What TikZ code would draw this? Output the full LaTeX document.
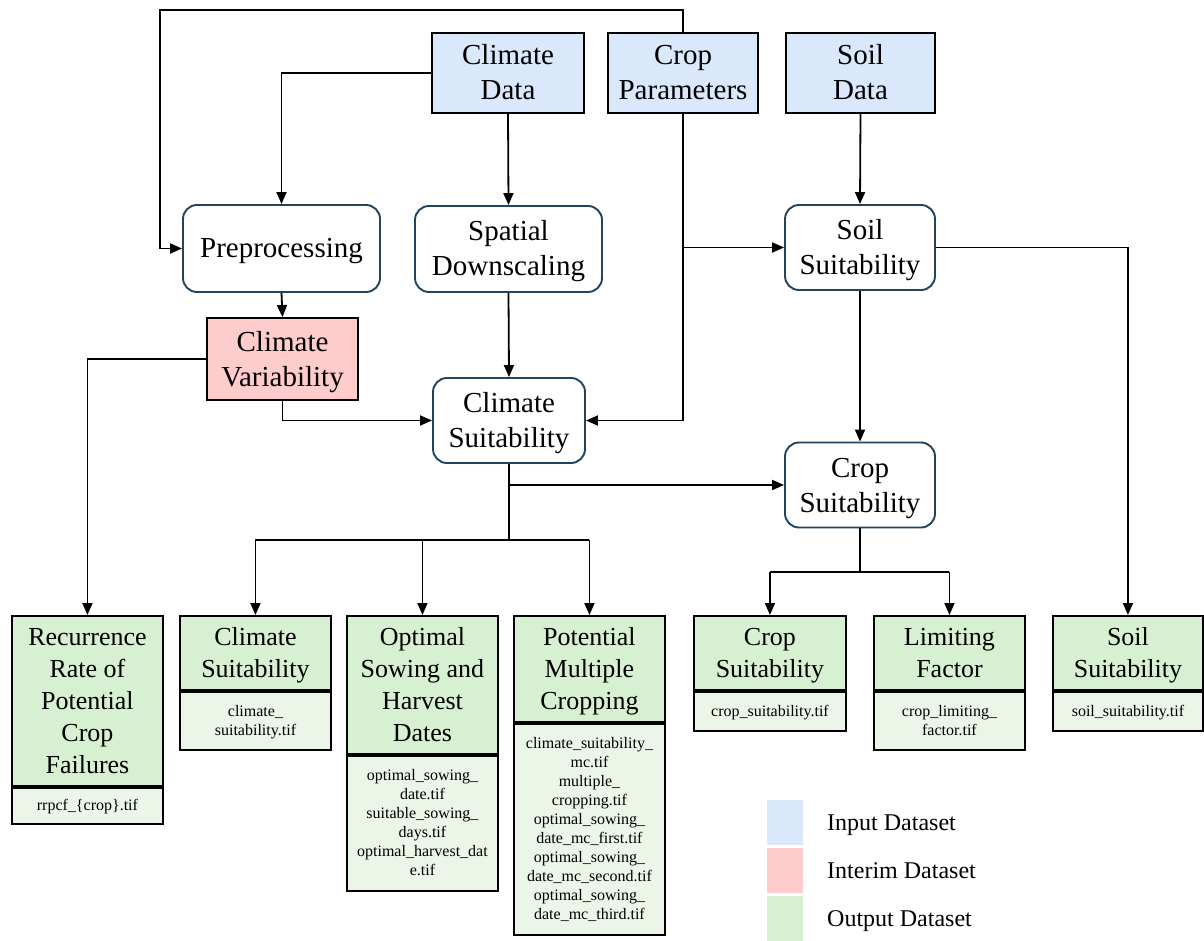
\documentclass[tikz,border=0pt]{standalone}
\usepackage{fontspec}
\setmainfont{Liberation Serif}
\usetikzlibrary{arrows.meta}
\definecolor{inblue}{HTML}{DAE8FC}
\definecolor{inpink}{HTML}{FFCCCC}
\definecolor{outgreen}{HTML}{D8F0D2}
\definecolor{filegreen}{HTML}{EBF6E8}
\definecolor{procborder}{HTML}{23445D}
% struts that centre lines on their cap height, as the reference does
\newcommand{\pst}{\rule[-8pt]{0pt}{35pt}}
\newcommand{\hst}{\rule[-7pt]{0pt}{31pt}}
\newcommand{\fst}{\rule[-4pt]{0pt}{18pt}}
\newcommand{\lst}{\rule[-6pt]{0pt}{28pt}}
\tikzset{
  inbox/.style={draw=black, line width=1.9pt, fill=inblue, inner sep=0pt, align=center, minimum height=80pt, font=\fontsize{29}{35}\selectfont},
  procbox/.style={draw=procborder, line width=1.9pt, fill=white, rounded corners=14pt, inner sep=0pt, align=center, font=\fontsize{29}{35}\selectfont},
  interbox/.style={draw=black, line width=1.9pt, fill=inpink, inner sep=0pt, align=center, font=\fontsize{29}{35}\selectfont},
  outhead/.style={draw=black, line width=1.9pt, fill=outgreen, inner sep=0pt, align=center, anchor=north west, minimum width=151pt, font=\fontsize{26}{32}\selectfont},
  outfile/.style={draw=black, line width=1.9pt, fill=filegreen, inner sep=0pt, align=center, anchor=north west, minimum width=151pt, font=\fontsize{16}{19}\selectfont},
  conn/.style={line width=1.8pt, draw=black},
  arr/.style={conn, -{Triangle[length=12pt,width=10pt]}},
  legsq/.style={inner sep=0pt, minimum width=36pt, minimum height=45pt},
  legtxt/.style={anchor=west, inner sep=0pt, font=\fontsize{24}{28}\selectfont}
}
\begin{document}
\begin{tikzpicture}[x=1pt,y=-1pt]
\useasboundingbox (0,0) rectangle (1204,941);

% input datasets
\node[inbox, minimum width=152pt] (cd) at (508,73) {\pst Climate\\\pst Data};
\node[inbox, minimum width=150pt] (cp) at (683,73) {\pst Crop\\\pst Parameters};
\node[inbox, minimum width=149pt] (sd) at (860.5,73) {\pst Soil\\\pst Data};

% processes
\node[procbox, minimum width=197pt, minimum height=87pt] (pre) at (281.5,248.5) {\pst Preprocessing};
\node[procbox, minimum width=187pt, minimum height=86pt] (spd) at (508.5,249) {\pst Spatial\\\pst Downscaling};
\node[procbox, minimum width=150pt, minimum height=85pt] (ss) at (860,247.5) {\pst Soil\\\pst Suitability};
\node[interbox, minimum width=151pt, minimum height=82pt] (cv) at (282.5,359) {\pst Climate\\\pst Variability};
\node[procbox, minimum width=152pt, minimum height=85pt] (cs) at (509,420.5) {\pst Climate\\\pst Suitability};
\node[procbox, minimum width=150pt, minimum height=85pt] (crs) at (860,485) {\pst Crop\\\pst Suitability};

% outputs
\node[outhead, minimum height=170pt] (o1) at (11,615) {\hst Recurrence\\Rate of\\Potential\\Crop\\\hst Failures};
\node[outfile, minimum height=36pt] (f1) at (o1.south west) {\fst rrpcf\_\{crop\}.tif};

\node[outhead, minimum height=74pt] (o2) at (179,615) {\hst Climate\\\hst Suitability};
\node[outfile, minimum height=58pt] (f2) at (o2.south west) {\fst climate\_\\\fst suitability.tif};

\node[outhead, minimum height=138pt] (o3) at (346,615) {\hst Optimal\\Sowing and\\Harvest\\\hst Dates};
\node[outfile, minimum height=135pt] (f3) at (o3.south west) {\fst optimal\_sowing\_\\date.tif\\suitable\_sowing\_\\days.tif\\optimal\_harvest\_dat\\\fst e.tif};

\node[outhead, minimum height=106pt] (o4) at (513,615) {\hst Potential\\Multiple\\\hst Cropping};
\node[outfile, minimum height=211pt] (f4) at (o4.south west) {\fst climate\_suitability\_\\mc.tif\\multiple\_\\cropping.tif\\optimal\_sowing\_\\date\_mc\_first.tif\\optimal\_sowing\_\\date\_mc\_second.tif\\optimal\_sowing\_\\\fst date\_mc\_third.tif};

\node[outhead, minimum width=152pt, minimum height=74pt] (o5) at (693,615) {\hst Crop\\\hst Suitability};
\node[outfile, minimum width=152pt, minimum height=39pt] (f5) at (o5.south west) {\fst crop\_suitability.tif};

\node[outhead, minimum height=74pt] (o6) at (873,615) {\hst Limiting\\\hst Factor};
\node[outfile, minimum height=58pt] (f6) at (o6.south west) {\fst crop\_limiting\_\\\fst factor.tif};

\node[outhead, minimum width=150pt, minimum height=74pt] (o7) at (1052,615) {\hst Soil\\\hst Suitability};
\node[outfile, minimum width=150pt, minimum height=39pt] (f7) at (o7.south west) {\fst soil\_suitability.tif};

% connectors
\coordinate (loopc) at (160,10);
\draw[arr] (cp.north) |- (loopc) |- (pre.west);
\draw[arr] (cd.west) -| (pre.north);
\draw[arr] (cd.south) -- (spd.north);
\draw[arr] (sd.south) -- (ss.north);
\draw[arr] (cp.south) |- (cs.east);
\draw[arr] (cp.south |- ss.west) -- (ss.west);
\draw[arr] (ss.east) -| (o7.north);
\draw[arr] (ss.south) -- (crs.north);
\draw[arr] (pre.south) -- (cv.north);
\draw[arr] (cv.west) -| (o1.north);
\draw[arr] (cv.south) |- (cs.west);
\draw[arr] (spd.south) -- (cs.north);

\coordinate (busa) at (0,540);
\draw[conn] (cs.south) -- (cs.south |- busa);
\draw[arr] (cs.south |- crs.west) -- (crs.west);
\draw[conn] (o2.north |- busa) -- (o4.north |- busa);
\draw[arr] (o2.north |- busa) -- (o2.north);
\draw[arr] (o3.north |- busa) -- (o3.north);
\draw[arr] (o4.north |- busa) -- (o4.north);

\coordinate (busb) at (0,572);
\draw[conn] (crs.south) -- (crs.south |- busb);
\draw[conn] (o5.north |- busb) -- (o6.north |- busb);
\draw[arr] (o5.north |- busb) -- (o5.north);
\draw[arr] (o6.north |- busb) -- (o6.north);

% legend
\node[legsq, fill=inblue] (l1) at (785,822) {};
\node[legsq, fill=inpink] (l2) at (785,870) {};
\node[legsq, fill=outgreen] (l3) at (785,918) {};
\node[legtxt] (t1) at (827,822) {\lst Input Dataset};
\node[legtxt] (t2) at (827,870) {\lst Interim Dataset};
\node[legtxt] (t3) at (827,918) {\lst Output Dataset};
\end{tikzpicture}
\end{document}
